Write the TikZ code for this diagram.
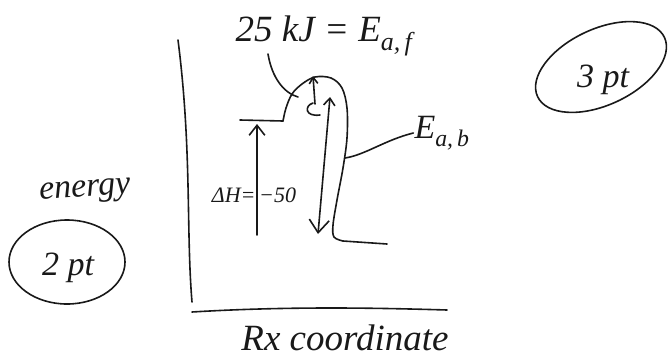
\documentclass[tikz,border=0pt]{standalone}
\usepackage{fontspec}
\setmainfont{Liberation Serif}
\usepackage{tikz}
\usetikzlibrary{arrows.meta, positioning, calc}
\definecolor{inkgray}{RGB}{25, 25, 25}
\tikzset{
  >=Stealth,
  pen/.style={line width=1.6pt, inkgray, line cap=round, line join=round},
  penarrow/.style={pen, -{Straight Barb[length=3.5mm, width=5.5mm]}},
  penarrow_small/.style={pen, -{Straight Barb[length=2.2mm, width=3mm]}},
  pendouble/.style={pen, {Straight Barb[length=2.5mm, width=4mm]}-{Straight Barb[length=4.5mm, width=7mm]}},
  scrawl/.style={inner sep=1pt, text=inkgray, font=\itshape\fontsize{34}{36}\selectfont},
  scrawl_big/.style={inner sep=1pt, text=inkgray, font=\itshape\fontsize{37}{39}\selectfont},
  scrawl_small/.style={inner sep=1pt, text=inkgray, font=\itshape\fontsize{22}{24}\selectfont}
}

\begin{document}
\begin{tikzpicture}[x=1pt, y=-1pt]
    \useasboundingbox (0,0) rectangle (671,359);

    % axes
    \draw[pen] (178,40) .. controls (192,150) and (186,230) .. (192,302);
    \draw[pen] (192,312) .. controls (290,306) and (380,308) .. (447,310);
    \node[scrawl_big] (rxlabel) at (345,338) {Rx coordinate};
    \node[scrawl, rotate=4] (energylabel) at (85,192) {energy};

    % levels
    \coordinate (reactleft) at (240,120);
    \coordinate (reactright) at (283,121);
    \coordinate (prodleft) at (343,241);
    \coordinate (prodright) at (387,244);
    \coordinate (peak) at (313,76);

    % energy curve
    \draw[pen] (reactleft) -- (reactright);
    \draw[pen] plot[smooth, tension=0.55] coordinates {(283,121) (286,108) (292,94) (302,84) (315,77) (331,78) (342,88) (347,108) (347,138) (343,168) (337,200) (333,225) (334,237) (343,241)};
    \draw[pen] (prodleft) -- (prodright);

    % Delta H arrow
    \coordinate (dhbot) at (257,235);
    \coordinate (dhtop) at (257,124);
    \draw[penarrow] (dhbot) -- (dhtop);
    \node[scrawl_small] (dhlabel) at (254,195) {ΔH=\,−50};

    % forward barrier arrow
    \coordinate (efbot) at (315,104);
    \draw[penarrow_small] (efbot) -- (peak);
    \draw[pen] (313,103) .. controls (304,106) and (305,117) .. (320,115);
    \node[scrawl_big] (eaf) at (324,36) {25 kJ = E\textsubscript{a,\,f}};
    \coordinate (eafpt) at (268,54);
    \draw[pen] (eafpt) .. controls (272,78) and (284,93) .. (298,97);

    % reverse barrier arrow
    \coordinate (ebtop) at (330,97);
    \coordinate (ebbot) at (318,234);
    \draw[pendouble] (ebtop) -- (ebbot);
    \node[scrawl] (eab) at (442,133) {E\textsubscript{a,\,b}};
    \coordinate (eabpt) at (345,158);
    \draw[pen] (eabpt) .. controls (365,155) and (385,140) .. (eab.west);

    % points
    \node[scrawl] (twopt) at (68,268) {2 pt};
    \draw[pen] (67,262) ellipse [x radius=58, y radius=42];
    \node[scrawl] (threept) at (603,80) {3 pt};
    \draw[pen, rotate around={25:(601,67)}] (601,67) ellipse [x radius=70, y radius=38];
\end{tikzpicture}
\end{document}
